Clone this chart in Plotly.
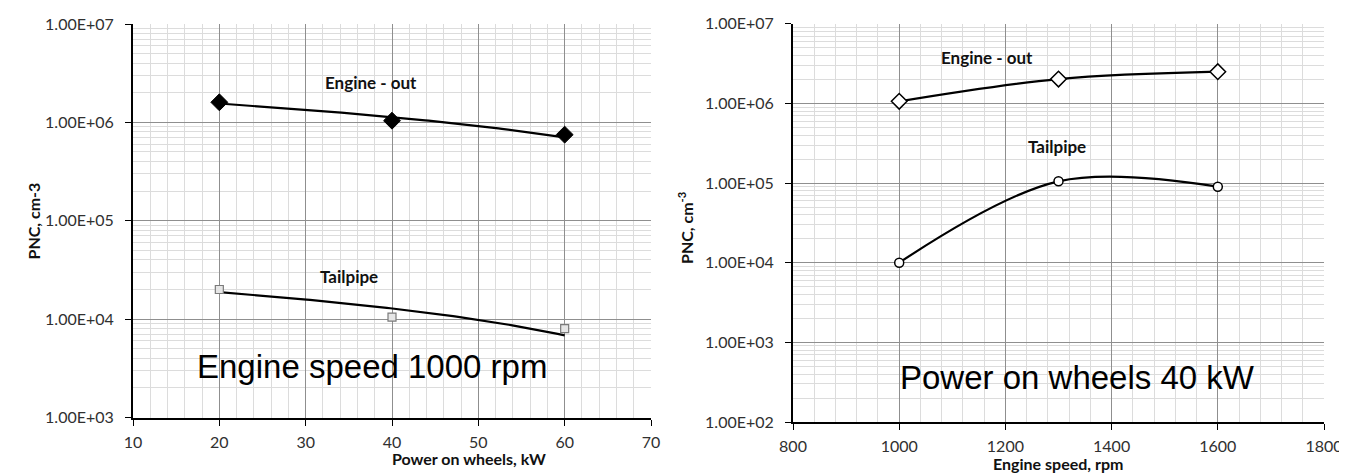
import numpy as np
import plotly.graph_objects as go

# ---------------- data ----------------
power_kw = [20, 40, 60]
left_engine_out = [1.6e6, 1.04e6, 7.5e5]
left_tailpipe = [2.0e4, 1.05e4, 8.0e3]

speed_rpm = [1000, 1300, 1600]
right_engine_out = [1.06e6, 2.02e6, 2.5e6]
right_tailpipe = [1.0e4, 1.05e5, 9.0e4]

left_ytickvals = [1e3, 1e4, 1e5, 1e6, 1e7]
left_yticktext = ["1.00E+03", "1.00E+04", "1.00E+05", "1.00E+06", "1.00E+07"]
right_ytickvals = [1e2, 1e3, 1e4, 1e5, 1e6, 1e7]
right_yticktext = ["1.00E+02", "1.00E+03", "1.00E+04", "1.00E+05", "1.00E+06", "1.00E+07"]

W, H = 1347, 475
TICKFONT = dict(family="Lato", size=16, color="#303030")
LABFONT = dict(family="Lato", size=16, color="#111111")
MAJ = "#8f8f8f"
MIN = "#dcdcdc"

fig = go.Figure()

# Left chart: linear trendlines (fitted on linear values), drawn on a log axis
xs = np.linspace(power_kw[0], power_kw[-1], 100)
for vals in (left_engine_out, left_tailpipe):
    coef = np.polyfit(power_kw, vals, 1)
    fig.add_trace(go.Scatter(x=xs, y=np.polyval(coef, xs), mode="lines",
                             line=dict(color="black", width=2.2),
                             xaxis="x", yaxis="y", showlegend=False, hoverinfo="skip"))

fig.add_trace(go.Scatter(x=power_kw, y=left_engine_out, mode="markers",
                         marker=dict(symbol="diamond", size=13, color="black",
                                     line=dict(color="black", width=1)),
                         xaxis="x", yaxis="y", showlegend=False, name="Engine - out"))
fig.add_trace(go.Scatter(x=power_kw, y=left_tailpipe, mode="markers",
                         marker=dict(symbol="square", size=8, color="#e6e6e6",
                                     line=dict(color="#7a7a7a", width=1.2)),
                         xaxis="x", yaxis="y", showlegend=False, name="Tailpipe"))

# Right chart: smoothed lines
fig.add_trace(go.Scatter(x=speed_rpm, y=right_engine_out, mode="lines+markers",
                         line=dict(color="black", width=2.2, shape="spline", smoothing=1),
                         marker=dict(symbol="diamond", size=12, color="white",
                                     line=dict(color="black", width=1.5)),
                         xaxis="x2", yaxis="y2", showlegend=False, name="Engine - out"))
fig.add_trace(go.Scatter(x=speed_rpm, y=right_tailpipe, mode="lines+markers",
                         line=dict(color="black", width=2.2, shape="spline", smoothing=1),
                         marker=dict(symbol="circle", size=9, color="white",
                                     line=dict(color="black", width=1.5)),
                         xaxis="x2", yaxis="y2", showlegend=False, name="Tailpipe"))

common_x = dict(showline=True, linecolor="black", linewidth=2, ticks="outside",
                ticklen=6, tickcolor="black", tickfont=TICKFONT, showgrid=True,
                gridcolor=MAJ, gridwidth=1, zeroline=False, mirror=False,
                automargin=False, ticklabelstandoff=3)
common_y = dict(type="log", showline=True, linecolor="black", linewidth=2,
                ticks="outside", ticklen=6, tickcolor="black", tickfont=TICKFONT,
                showgrid=True, gridcolor=MAJ, gridwidth=1, zeroline=False,
                automargin=False, ticklabelstandoff=8,
                minor=dict(dtick="D1", showgrid=True, gridcolor=MIN, gridwidth=1, ticks=""))

fig.update_layout(
    width=W, height=H,
    margin=dict(l=0, r=0, t=0, b=0),
    paper_bgcolor="white", plot_bgcolor="white",
    xaxis=dict(common_x, domain=[125 / W, 643 / W], range=[10, 70], dtick=10, tick0=10,
               minor=dict(dtick=2, showgrid=True, gridcolor=MIN, gridwidth=1, ticks=""),
               anchor="y"),
    yaxis=dict(common_y, domain=[1 - 409.5 / H, 1 - 16 / H], range=[3, 7],
               tickvals=left_ytickvals, ticktext=left_yticktext, anchor="x"),
    xaxis2=dict(common_x, domain=[785 / W, 1316 / W], range=[800, 1800], dtick=200, tick0=800,
                minor=dict(dtick=40, showgrid=True, gridcolor=MIN, gridwidth=1, ticks=""),
                anchor="y2"),
    yaxis2=dict(common_y, domain=[1 - 414 / H, 1 - 15.7 / H], range=[2, 7],
                tickvals=right_ytickvals, ticktext=right_yticktext, anchor="x2"),
)

ann = []
# in-plot labels
ann.append(dict(x=37.6, y=6.41, xref="x", yref="y", text="<b>Engine - out</b>", showarrow=False,
                font=dict(family="Lato", size=17, color="#111111")))
ann.append(dict(x=35.0, y=4.43, xref="x", yref="y", text="<b>Tailpipe</b>", showarrow=False,
                font=dict(family="Lato", size=17, color="#111111")))
ann.append(dict(x=37.7, y=3.52, xref="x", yref="y", text="Engine speed 1000 rpm", showarrow=False,
                font=dict(family="Liberation Sans", size=33, color="black")))
ann.append(dict(x=1166, y=6.57, xref="x2", yref="y2", text="<b>Engine - out</b>", showarrow=False,
                font=dict(family="Lato", size=17, color="#111111")))
ann.append(dict(x=1298, y=5.46, xref="x2", yref="y2", text="<b>Tailpipe</b>", showarrow=False,
                font=dict(family="Lato", size=17, color="#111111")))
ann.append(dict(x=1335, y=2.56, xref="x2", yref="y2", text="Power on wheels 40 kW", showarrow=False,
                font=dict(family="Liberation Sans", size=33, color="black")))
# axis titles
ann.append(dict(x=382 / W, y=1 - 462 / H, xref="paper", yref="paper", text="<b>Power on wheels, kW</b>",
                showarrow=False, font=LABFONT))
ann.append(dict(x=1117 / W, y=1 - 467 / H, xref="paper", yref="paper", text="<b>Engine speed, rpm</b>",
                showarrow=False, font=LABFONT))
ann.append(dict(x=13 / W, y=1 - 213 / H, xref="paper", yref="paper", text="<b>PNC, cm-3</b>",
                showarrow=False, textangle=-90, font=LABFONT))
ann.append(dict(x=677 / W, y=1 - 220 / H, xref="paper", yref="paper", text="<b>PNC, cm<sup>-3</sup></b>",
                showarrow=False, textangle=-90, font=LABFONT))
fig.update_layout(annotations=ann)

fig.write_html("out.html")
